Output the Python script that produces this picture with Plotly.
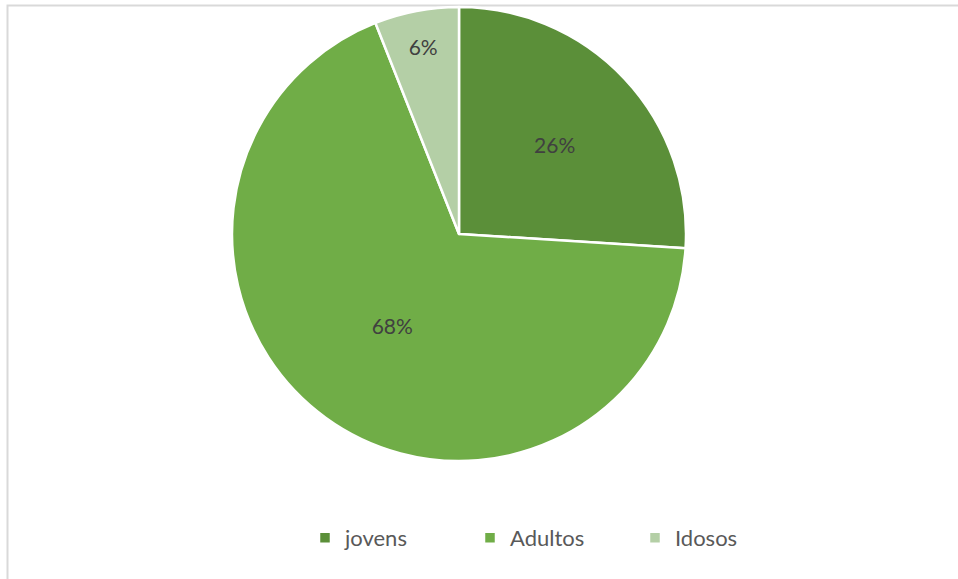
import plotly.graph_objects as go

categories = ["jovens", "Adultos", "Idosos"]
values = [26, 68, 6]
colors = ["#5B8F39", "#70AD47", "#B4CFA6"]

W, H = 958, 579
cx, cy, r = 459, 234, 227

fig = go.Figure(go.Pie(
    labels=categories,
    values=values,
    sort=False,
    direction="clockwise",
    rotation=0,
    marker=dict(colors=colors, line=dict(color="white", width=2.5)),
    textinfo="percent",
    texttemplate="%{percent:.0%}",
    textposition="inside",
    insidetextorientation="horizontal",
    textfont=dict(family="Lato, 'Open Sans', sans-serif", size=21, color="#404040"),
    domain=dict(x=[(cx - r) / W, (cx + r) / W], y=[1 - (cy + r) / H, 1 - (cy - r) / H]),
    hoverinfo="label+percent",
))

fig.update_layout(
    width=W, height=H,
    margin=dict(l=0, r=0, t=0, b=0),
    paper_bgcolor="white",
    plot_bgcolor="white",
    showlegend=True,
    legend=dict(
        orientation="h",
        x=305 / W, xanchor="left",
        y=1 - 538 / H, yanchor="middle",
        font=dict(family="Lato, 'Open Sans', sans-serif", size=22, color="#595959"),
        itemwidth=30,
        entrywidth=120,
        traceorder="normal",
    ),
    shapes=[dict(
        type="rect", xref="paper", yref="paper",
        x0=7.5 / W, x1=1.05, y0=-0.05, y1=1 - 5.5 / H,
        line=dict(color="#D9D9D9", width=2),
        layer="below",
    )],
)

fig.write_html(
    "out.html",
    config={"displayModeBar": False},
    post_script="document.body.style.margin='0';document.body.style.padding='0';",
)
